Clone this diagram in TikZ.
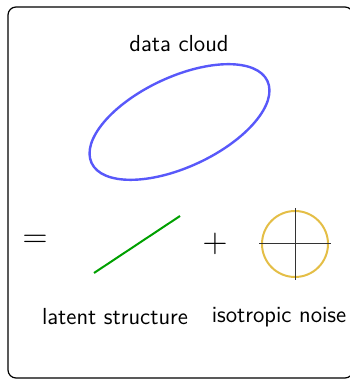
\documentclass[tikz,border=0pt]{standalone}
\usepackage{amsmath}
\usepackage{xcolor}
\usepackage{tikz}
\usetikzlibrary{positioning}
\definecolor{cloudblue}{RGB}{88,88,250}
\definecolor{latentgreen}{RGB}{0,160,0}
\definecolor{noisegold}{RGB}{228,190,70}
\tikzset{
    frame/.style={draw=black, line width=0.6pt, rounded corners=4pt},
    cloud/.style={draw=cloudblue, line width=1.2pt},
    latent/.style={draw=latentgreen, line width=1pt},
    noise/.style={draw=noisegold, line width=1pt},
    axis/.style={draw=black!80, line width=0.5pt},
    caption/.style={font=\sffamily\fontsize{11.6}{13}\selectfont, inner sep=0pt},
    sign/.style={font=\fontsize{19}{21}\selectfont, inner sep=0pt}
}
\begin{document}
\begin{tikzpicture}[x=0.5pt, y=0.5pt]
        \useasboundingbox (0,0) rectangle (349,379);
        \draw[frame] (8,1) rectangle (353,372);

        \node[caption] (Title) at (179,335) {data cloud};
        \draw[cloud] (179.5,257) ellipse [x radius=97, y radius=45, rotate=25];

        \node[sign] (Equals) at (35,138) {$=$};
        \draw[latent] (94,106) -- (180,163);

        \node[sign] (Plus) at (215,135) {$+$};
        \draw[noise] (295,135) circle [radius=33];
        % axes of the noise disc
        \draw[axis] (259,135) -- (331,135);
        \draw[axis] (295,171) -- (295,99);

        \node[caption] (Latent) at (115,62) {latent structure};
        \node[caption] (Noise) at (279,62) {isotropic noise};
    \end{tikzpicture}
\end{document}
